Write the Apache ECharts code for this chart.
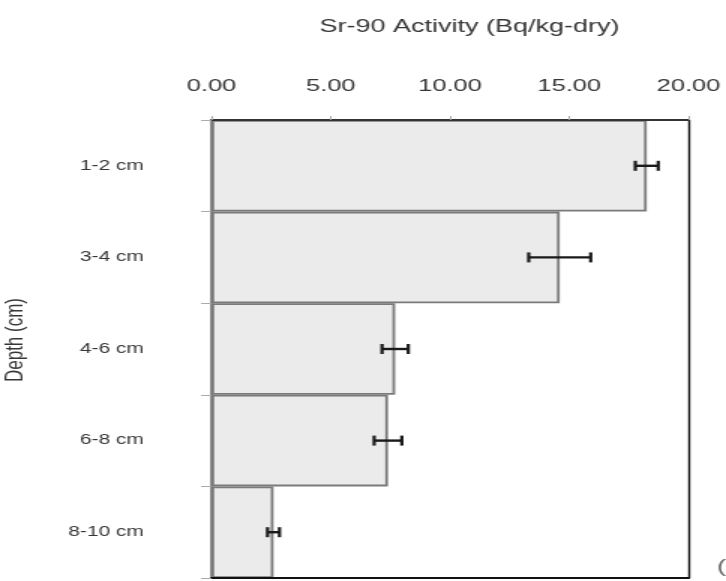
<!DOCTYPE html>
<html>
<head>
<meta charset="utf-8">
<script src="https://cdn.jsdelivr.net/npm/echarts@6/dist/echarts.min.js"></script>
<style>
html,body{margin:0;padding:0;background:#fff;overflow:hidden;}
#chart{width:484px;height:581px;transform:scaleX(1.5);transform-origin:0 0;}
</style>
</head>
<body>
<div id="chart"></div>
<script>
const categories = ['1-2 cm', '3-4 cm', '4-6 cm', '6-8 cm', '8-10 cm'];
const activity = [18.25, 14.6, 7.7, 7.4, 2.6];
const errors = [0.48, 1.3, 0.55, 0.58, 0.25];
const xTicks = [0, 5, 10, 15, 20];

const chart = echarts.init(document.getElementById('chart'));
const textColor = '#363636';
const ff = 'Liberation Sans, Arial';
chart.setOption({
  animation: false,
  title: {
    text: 'Sr-90 Activity (Bq/kg-dry)',
    left: 308, top: 13, textAlign: 'center',
    textStyle: {fontFamily: ff, fontSize: 18, fontWeight: 'normal', color: textColor}
  },
  grid: {left: 141, right: 25, top: 120, bottom: 3, containLabel: false, outerBoundsMode: 'none'},
  xAxis: [{
    type: 'value', position: 'top', min: xTicks[0], max: xTicks[xTicks.length - 1], interval: 5,
    z: 10,
    axisLine: {show: true, lineStyle: {color: '#333', width: 2}},
    axisTick: {show: true, length: 4, lineStyle: {color: '#aaa', width: 1}},
    splitLine: {show: false},
    axisLabel: {formatter: v => v.toFixed(2), fontFamily: ff, fontSize: 17, color: textColor, margin: 25}
  }, {
    type: 'value', position: 'bottom', min: 0, max: 20, z: 10,
    axisLine: {show: true, onZero: false, lineStyle: {color: '#111', width: 2}},
    axisTick: {show: false}, axisLabel: {show: false}, splitLine: {show: false}
  }],
  yAxis: [{
    type: 'category', data: categories, inverse: true, z: 10,
    name: 'Depth (cm)', nameLocation: 'middle', nameGap: 122, nameRotate: 90,
    nameTextStyle: {fontFamily: ff, fontSize: 17, color: textColor, padding: [0, 0, 0, 18]},
    axisLine: {show: true, lineStyle: {color: '#777', width: 1.7}},
    axisTick: {show: true, length: 7, lineStyle: {color: '#aaa', width: 1}},
    axisLabel: {fontFamily: ff, fontSize: 14, color: textColor, margin: 45},
    splitLine: {show: false}
  }, {
    type: 'category', data: categories, inverse: true, position: 'right', z: 10,
    axisLine: {show: true, onZero: false, lineStyle: {color: '#111', width: 1.4}},
    axisTick: {show: false}, axisLabel: {show: false}, splitLine: {show: false}
  }],
  series: [{
    type: 'bar', data: activity, barWidth: '100%', barCategoryGap: '0%',
    xAxisIndex: 0, yAxisIndex: 0,
    itemStyle: {color: '#ebebeb', borderColor: '#7a7a7a', borderWidth: 1.8}
  }, {
    type: 'custom', xAxisIndex: 0, yAxisIndex: 0, z: 5,
    data: activity.map((v, i) => [v, i, errors[i]]),
    encode: {x: 0, y: 1},
    renderItem: function (params, api) {
      const v = api.value(0), i = api.value(1), e = api.value(2);
      const lo = api.coord([v - e, i]);
      const hi = api.coord([v + e, i]);
      const h = 5;
      const st = {stroke: '#1a1a1a', lineWidth: 2.4};
      const cs = {stroke: '#1a1a1a', lineWidth: 2.2};
      return {
        type: 'group',
        children: [
          {type: 'line', shape: {x1: lo[0], y1: lo[1], x2: hi[0], y2: hi[1]}, style: st},
          {type: 'line', shape: {x1: lo[0], y1: lo[1] - h, x2: lo[0], y2: lo[1] + h}, style: cs},
          {type: 'line', shape: {x1: hi[0], y1: hi[1] - h, x2: hi[0], y2: hi[1] + h}, style: cs}
        ]
      };
    }
  }],
  graphic: [{
    type: 'text', left: 478, top: 558,
    style: {text: '(', fontFamily: ff, fontSize: 18, fill: '#666'}
  }]
});
</script>
</body>
</html>
